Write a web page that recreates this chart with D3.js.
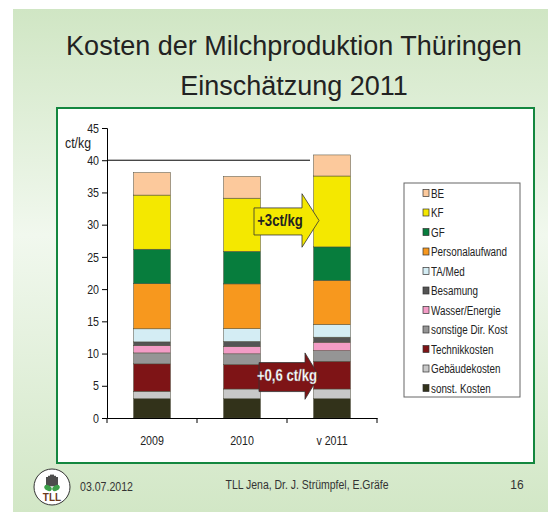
<!DOCTYPE html>
<html>
<head>
<meta charset="utf-8">
<script src="https://cdn.jsdelivr.net/npm/d3@7"></script>
<style>
  body { margin: 0; background: #fff; }
  svg { display: block; font-family: "Liberation Sans", Arial, sans-serif; }
</style>
</head>
<body>
<svg id="chart" width="548" height="512"></svg>
<script>
// categories on the x axis
let years = ["2009", "2010", "v 2011"];

// cost types, listed bottom to top of the stack
let costTypes = ["sonst. Kosten", "Gebäudekosten", "Technikkosten", "sonstige Dir. Kost",
    "Wasser/Energie", "Besamung", "TA/Med", "Personalaufwand", "GF", "KF", "BE"];

// ct/kg per year, one array per cost type
let sonstKosten   = [3.0, 3.0, 3.0];
let gebaeude      = [1.15, 1.5, 1.5];
let technik       = [4.25, 3.8, 4.3];
let sonstigeDir   = [1.7, 1.66, 1.66];
let wasser        = [1.14, 1.14, 1.3];
let besamung      = [0.57, 0.78, 0.78];
let taMed         = [2.03, 1.98, 1.97];
let personal      = [7.0, 6.95, 6.85];
let gf            = [5.35, 5.05, 5.19];
let kf            = [8.4, 8.25, 11.0];
let be            = [3.5, 3.37, 3.27];

let seriesValues = [sonstKosten, gebaeude, technik, sonstigeDir, wasser, besamung,
    taMed, personal, gf, kf, be];

let colors = ["#32321a", "#c8c8c8", "#7e1416", "#959595", "#f39cc6", "#545454",
    "#d4edf4", "#f7981e", "#077d3d", "#f4e800", "#fcc99c"];

let yTicks = [0, 5, 10, 15, 20, 25, 30, 35, 40, 45];
let refLine = 40;

let svg = d3.select("#chart");

// slide background
let defs = svg.append("defs");
let grad = defs.append("linearGradient").attr("id", "bg")
    .attr("x1", 0).attr("y1", 0).attr("x2", 0).attr("y2", 1);
grad.append("stop").attr("offset", "0%").attr("stop-color", "#d0e6c4");
grad.append("stop").attr("offset", "45%").attr("stop-color", "#f1f8ee");
grad.append("stop").attr("offset", "100%").attr("stop-color", "#d2e7c6");

svg.append("rect")
    .attr("x", 13).attr("y", 9)
    .attr("width", 535).attr("height", 503)
    .attr("fill", "url(#bg)");

// title
svg.append("text")
    .attr("x", 294).attr("y", 55)
    .attr("text-anchor", "middle")
    .attr("font-size", 27)
    .attr("fill", "#222")
    .text("Kosten der Milchproduktion Thüringen");
svg.append("text")
    .attr("x", 294).attr("y", 95)
    .attr("text-anchor", "middle")
    .attr("font-size", 27)
    .attr("fill", "#222")
    .text("Einschätzung 2011");

// chart frame
svg.append("rect")
    .attr("x", 57).attr("y", 108)
    .attr("width", 477).attr("height", 355)
    .attr("fill", "#fff")
    .attr("stroke", "#14873f")
    .attr("stroke-width", 2);

let x = d3.scaleBand().domain(years).range([107, 377]).padding(0);
let y = d3.scaleLinear().domain([0, 45]).range([418, 128]);
let barW = x.bandwidth() * 0.41;

// stack the data
let rows = years.map(function(yr, i) {
    let r = { year: yr };
    costTypes.forEach(function(c, k) { r[c] = seriesValues[k][i]; });
    return r;
});
let stacked = d3.stack().keys(costTypes)(rows);

// reference line at 40
svg.append("line")
    .attr("x1", 107).attr("x2", 310)
    .attr("y1", y(refLine)).attr("y2", y(refLine))
    .attr("stroke", "#000").attr("stroke-width", 1);

let gBars = svg.append("g");
gBars.selectAll("g")
    .data(stacked)
    .enter().append("g")
    .attr("fill", function(d, i) { return colors[i]; })
    .selectAll("rect")
    .data(function(d) { return d; })
    .enter().append("rect")
    .attr("x", function(d) { return x(d.data.year) + (x.bandwidth() - barW) / 2; })
    .attr("y", function(d) { return y(d[1]); })
    .attr("width", barW)
    .attr("height", function(d) { return y(d[0]) - y(d[1]); })
    .attr("stroke", "#4a4a3a")
    .attr("stroke-width", 0.5);

// y axis
let yAxis = svg.append("g")
    .attr("transform", "translate(107,0)")
    .call(d3.axisLeft(y).tickValues(yTicks).tickSize(5).tickPadding(3));
yAxis.attr("font-family", null);
yAxis.select(".domain").attr("stroke", "#000");
yAxis.selectAll("line").attr("stroke", "#000");
yAxis.selectAll("text")
    .attr("class", "narrow")
    .attr("font-size", 13)
    .attr("fill", "#222");

// x axis
let xAxis = svg.append("g")
    .attr("transform", "translate(0,418)")
    .call(d3.axisBottom(x).tickSize(0).tickPadding(18));
xAxis.attr("font-family", null);
xAxis.select(".domain").attr("stroke", "#000");
xAxis.selectAll("text")
    .attr("class", "narrow")
    .attr("font-size", 13)
    .attr("fill", "#222");
let bounds = years.map(function(d) { return x(d); }).concat([x(years[years.length - 1]) + x.bandwidth()]);
xAxis.selectAll(".bound")
    .data(bounds)
    .enter().append("line")
    .attr("class", "bound")
    .attr("x1", function(d) { return d; }).attr("x2", function(d) { return d; })
    .attr("y1", 0).attr("y2", 5)
    .attr("stroke", "#000");

svg.append("text")
    .attr("class", "narrow")
    .attr("x", 65).attr("y", 148)
    .attr("font-size", 15)
    .attr("fill", "#222")
    .text("ct/kg");

// arrows
function arrow(x0, xHead, xTip, bodyTop, bodyBot, headTop, headBot, fill) {
    let mid = (headTop + headBot) / 2;
    let pts = [[x0, y(bodyTop)], [xHead, y(bodyTop)], [xHead, y(headTop)], [xTip, y(mid)],
        [xHead, y(headBot)], [xHead, y(bodyBot)], [x0, y(bodyBot)]];
    svg.append("path")
        .attr("d", d3.line()(pts) + "Z")
        .attr("fill", fill)
        .attr("stroke", "#333")
        .attr("stroke-width", 0.8);
}
arrow(254, 302, 319, 32.6, 28.4, 34.8, 26.5, "#f4e800");
arrow(259, 305, 319, 8.6, 4.1, 10.1, 2.9, "#7e1416");

svg.append("text")
    .attr("class", "narrow")
    .attr("x", 280).attr("y", y(30.6) + 5)
    .attr("text-anchor", "middle")
    .attr("font-size", 16).attr("font-weight", "bold")
    .attr("fill", "#222")
    .text("+3ct/kg");
svg.append("text")
    .attr("class", "narrow")
    .attr("x", 287).attr("y", y(6.5) + 5)
    .attr("text-anchor", "middle")
    .attr("font-size", 16).attr("font-weight", "bold")
    .attr("fill", "#fff")
    .attr("stroke", "#777").attr("stroke-width", 0.3)
    .text("+0,6 ct/kg");

// legend
svg.append("rect")
    .attr("x", 404).attr("y", 183)
    .attr("width", 116).attr("height", 214)
    .attr("fill", "#fff")
    .attr("stroke", "#666").attr("stroke-width", 1);

let legendOrder = costTypes.slice().reverse();
let legendColors = colors.slice().reverse();
let leg = svg.append("g").selectAll("g")
    .data(legendOrder)
    .enter().append("g")
    .attr("transform", function(d, i) { return "translate(423," + (193 + i * 19.5) + ")"; });
leg.append("rect")
    .attr("x", 0).attr("y", -3.5)
    .attr("width", 6).attr("height", 7)
    .attr("fill", function(d, i) { return legendColors[i]; })
    .attr("stroke", "#333").attr("stroke-width", 0.7);
leg.append("text")
    .attr("class", "narrow")
    .attr("x", 8).attr("y", 4.5)
    .attr("font-size", 12)
    .attr("fill", "#222")
    .text(function(d) { return d; });

// the slide uses a condensed face: squeeze those labels horizontally
svg.selectAll("text.narrow").each(function() {
    let w = this.getComputedTextLength();
    d3.select(this)
        .attr("textLength", w * 0.82)
        .attr("lengthAdjust", "spacingAndGlyphs");
});

// footer
let logo = svg.append("g").attr("transform", "translate(52,487)");
logo.append("circle").attr("r", 18).attr("fill", "#fff").attr("stroke", "#333").attr("stroke-width", 1);
[-5, -3, -1, 1, 3, 5].forEach(function(dx) {
    logo.append("rect")
        .attr("x", dx - 0.8).attr("y", -13 + Math.abs(dx) * 0.6)
        .attr("width", 1.6).attr("height", 12 - Math.abs(dx) * 0.3)
        .attr("fill", "#222");
});
logo.append("ellipse").attr("cx", -4).attr("cy", 1).attr("rx", 4).attr("ry", 2.6)
    .attr("transform", "rotate(30,-4,1)").attr("fill", "#3da14a");
logo.append("ellipse").attr("cx", 4).attr("cy", 1).attr("rx", 4).attr("ry", 2.6)
    .attr("transform", "rotate(-30,4,1)").attr("fill", "#3da14a");
logo.append("text")
    .attr("y", 14).attr("text-anchor", "middle")
    .attr("font-size", 10).attr("font-weight", "bold")
    .attr("fill", "#6b3a1e")
    .text("TLL");

svg.append("text")
    .attr("x", 80).attr("y", 491)
    .attr("font-size", 12).attr("fill", "#333")
    .attr("textLength", 53).attr("lengthAdjust", "spacingAndGlyphs")
    .text("03.07.2012");
svg.append("text")
    .attr("x", 307).attr("y", 489)
    .attr("text-anchor", "middle")
    .attr("font-size", 12).attr("fill", "#333")
    .attr("textLength", 163).attr("lengthAdjust", "spacingAndGlyphs")
    .text("TLL Jena, Dr. J. Strümpfel, E.Gräfe");
svg.append("text")
    .attr("x", 517).attr("y", 489)
    .attr("text-anchor", "middle")
    .attr("font-size", 12).attr("fill", "#333")
    .text("16");
</script>
</body>
</html>
